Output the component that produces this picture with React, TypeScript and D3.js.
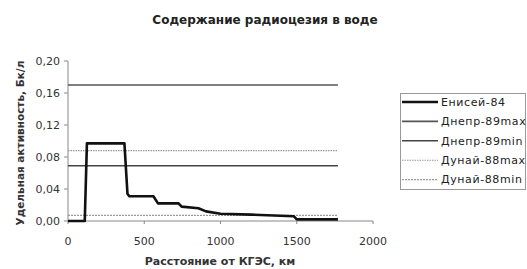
import * as d3 from 'd3'
import { useMemo } from 'react'

// Енисей-84: distance from KGES (km) and specific activity (Bq/l)
const eniseiKm = [0, 110, 124, 370, 390, 402, 560, 590, 725, 745, 855, 905, 1000, 1200, 1480, 1500, 1770]
const eniseiValues = [0, 0, 0.097, 0.097, 0.034, 0.031, 0.031, 0.022, 0.022, 0.018, 0.016, 0.012, 0.009, 0.008, 0.006, 0.002, 0.002]

// reference levels, drawn as flat lines over the same distance range
const levelKm = [0, 1770]
const levelNames = ['Днепр-89max', 'Днепр-89min', 'Дунай-88max', 'Дунай-88min']
const levelValues = [0.17, 0.069, 0.088, 0.007]

const legendNames = ['Енисей-84', ...levelNames]
const yTicks = [0, 0.04, 0.08, 0.12, 0.16, 0.2]
const xTicks = [0, 500, 1000, 1500, 2000]

const FONT = '"DejaVu Sans", Verdana, sans-serif'

const styles = [
  { stroke: '#111', width: 2.6, dash: null },
  { stroke: '#555', width: 1.6, dash: null },
  { stroke: '#444', width: 1.6, dash: null },
  { stroke: '#999', width: 1.1, dash: '1.5,1' },
  { stroke: '#999', width: 1.1, dash: '2,1' },
]

export default function App() {
  const x = d3.scaleLinear().domain([0, 2000]).range([68, 373])
  const y = d3.scaleLinear().domain([0, 0.2]).range([221, 61])
  const fmt = d3.format('.2f')

  const { eniseiPath, levelPaths } = useMemo(() => {
    const line = d3
      .line<[number, number]>()
      .x(d => x(d[0]))
      .y(d => y(d[1]))
    const eniseiPath = line(eniseiKm.map((k, i) => [k, eniseiValues[i]]))
    const levelPaths = levelValues.map(v => line(levelKm.map(k => [k, v] as [number, number])))
    return { eniseiPath, levelPaths }
  }, [])

  return (
    <svg
      width={527}
      height={269}
      style={{ position: 'absolute', left: 0, top: 0, background: '#fff' }}
      fontFamily={FONT}
    >
      <text x={265} y={24} textAnchor="middle" fontSize="12px" fontWeight="bold" fill="#222">
        Содержание радиоцезия в воде
      </text>

      {/* axes */}
      <g stroke="#888" strokeWidth="1" fill="none">
        <line x1={68} x2={68} y1={y(0.2)} y2={y(0)} />
        <line x1={68} x2={x(2000)} y1={y(0)} y2={y(0)} />
        {yTicks.map(t => (
          <line key={t} x1={64} x2={68} y1={y(t)} y2={y(t)} />
        ))}
        {xTicks.map(t => (
          <line key={t} x1={x(t)} x2={x(t)} y1={y(0)} y2={y(0) + 3} />
        ))}
      </g>
      <g fontSize="11px" fill="#333">
        {yTicks.map(t => (
          <text key={t} x={60} y={y(t) + 4} textAnchor="end">
            {fmt(t).replace('.', ',')}
          </text>
        ))}
        {xTicks.map(t => (
          <text key={t} x={x(t)} y={245} textAnchor="middle">
            {t}
          </text>
        ))}
      </g>

      {/* series */}
      <g fill="none">
        {levelPaths.map((p, i) => (
          <path
            key={i}
            d={p ?? ''}
            stroke={styles[i + 1].stroke}
            strokeWidth={styles[i + 1].width}
            strokeDasharray={styles[i + 1].dash ?? undefined}
          />
        ))}
        <path d={eniseiPath ?? ''} stroke={styles[0].stroke} strokeWidth={styles[0].width} strokeLinejoin="round" />
      </g>

      <text
        transform="translate(24,143) rotate(-90)"
        textAnchor="middle"
        fontSize="10.5px"
        fontWeight="bold"
        fill="#333"
      >
        Удельная активность, Бк/л
      </text>
      <text x={220} y={265} textAnchor="middle" fontSize="11px" fontWeight="bold" fill="#333">
        Расстояние от КГЭС, км
      </text>

      {/* legend */}
      <rect x={400.5} y={93.5} width={125} height={96} fill="#fff" stroke="#999" />
      {legendNames.map((name, i) => {
        const ly = 102 + i * 19.4
        const s = styles[i]
        return (
          <g key={name}>
            <line
              x1={402}
              x2={438}
              y1={ly}
              y2={ly}
              stroke={s.stroke}
              strokeWidth={s.width}
              strokeDasharray={s.dash ?? undefined}
            />
            <text x={441} y={ly + 3.8} fontSize="11px" letterSpacing="0.6" fill="#222">
              {name}
            </text>
          </g>
        )
      })}
    </svg>
  )
}
